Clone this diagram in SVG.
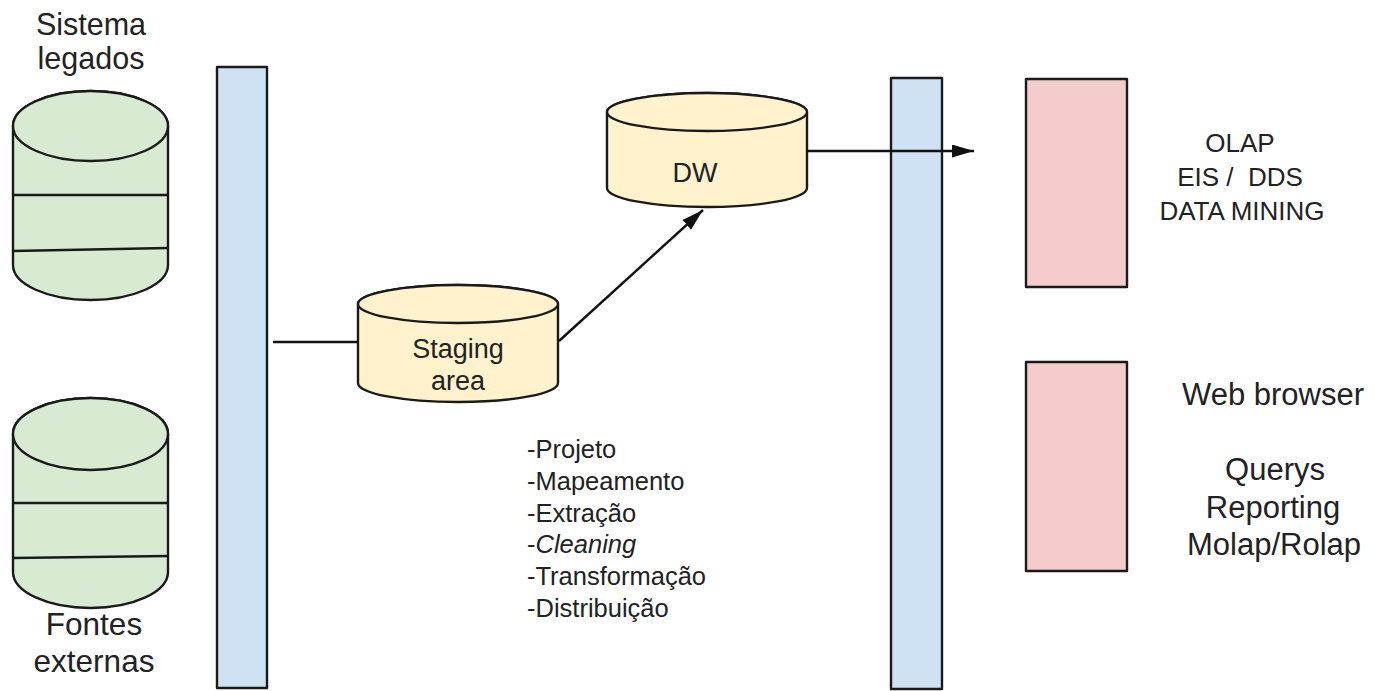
<svg xmlns="http://www.w3.org/2000/svg" width="1378" height="691" viewBox="0 0 1378 691">
<style>
.s{stroke:#1a1a1a;stroke-width:2.4;stroke-linejoin:round}
.g{fill:#d9ead3}.y{fill:#fff2cc}.b{fill:#cfe2f3}.p{fill:#f4cccc}
.t{font-family:"Liberation Sans",Arial,sans-serif;fill:#222;text-anchor:middle}
.l{font-family:"Liberation Sans",Arial,sans-serif;fill:#222;font-size:25.5px}
.c{stroke:#111;stroke-width:2.4;fill:none}
</style>
<defs>
<marker id="ah2" viewBox="0 0 10 10" refX="10" refY="5" markerWidth="22" markerHeight="13" markerUnits="userSpaceOnUse" orient="auto" preserveAspectRatio="none">
<path d="M0,0 L10,5 L0,10 Z" fill="#111"/>
</marker>
</defs>
<rect width="1378" height="691" fill="#fff"/>

<g id="bar1"><rect class="s b" x="217" y="67" width="50" height="621"/></g>
<g id="bar2"><rect class="s b" x="891" y="78" width="51" height="611"/></g>

<g id="legados">
<path class="s g" d="M13,126 V265 A77.5,35 0 0 0 168,265 V126 A77.5,35 0 0 0 13,126 Z"/>
<ellipse class="s g" cx="90.5" cy="126" rx="77.5" ry="35"/>
<line class="s" x1="13" y1="195" x2="168" y2="195"/>
<line class="s" x1="13" y1="251" x2="168" y2="248"/>
<text class="t" x="91" y="35" font-size="30.5">Sistema</text>
<text class="t" x="91" y="69" font-size="30.5">legados</text>
</g>

<g id="externas">
<path class="s g" d="M13,434 V572 A77.5,36 0 0 0 168,572 V434 A77.5,36 0 0 0 13,434 Z"/>
<ellipse class="s g" cx="90.5" cy="434" rx="77.5" ry="36"/>
<line class="s" x1="13" y1="503" x2="168" y2="503"/>
<line class="s" x1="13" y1="558" x2="168" y2="556"/>
<text class="t" x="94" y="635" font-size="31.5">Fontes</text>
<text class="t" x="94" y="672" font-size="31.5">externas</text>
</g>

<g id="staging">
<path class="s y" d="M358,304 V383 A100,19 0 0 0 558,383 V304 A100,19 0 0 0 358,304 Z"/>
<ellipse class="s y" cx="458" cy="304" rx="100" ry="19"/>
<text class="t" x="458" y="358" font-size="27">Staging</text>
<text class="t" x="458" y="390" font-size="27">area</text>
</g>

<g id="dw">
<path class="s y" d="M607,112 V188 A100,19 0 0 0 807,188 V112 A100,19 0 0 0 607,112 Z"/>
<ellipse class="s y" cx="707" cy="112" rx="100" ry="19"/>
<text class="t" x="695" y="182" font-size="27">DW</text>
</g>

<g id="olap">
<rect class="s p" x="1026" y="79" width="101" height="208"/>
<text class="t" x="1240" y="152" font-size="26">OLAP</text>
<text class="t" x="1240" y="186" font-size="26" xml:space="preserve">EIS /  DDS</text>
<text class="t" x="1242" y="220" font-size="26">DATA MINING</text>
</g>

<g id="web">
<rect class="s p" x="1026" y="362" width="101" height="209"/>
<text class="t" x="1273" y="405" font-size="31">Web browser</text>
<text class="t" x="1275" y="480" font-size="31">Querys</text>
<text class="t" x="1273" y="518" font-size="31">Reporting</text>
<text class="t" x="1274" y="555" font-size="31">Molap/Rolap</text>
</g>

<g id="steps">
<text class="l" x="527" y="458">-Projeto</text>
<text class="l" x="527" y="490">-Mapeamento</text>
<text class="l" x="527" y="522">-Extração</text>
<text class="l" x="527" y="553">-<tspan font-style="italic">Cleaning</tspan></text>
<text class="l" x="527" y="585">-Transformação</text>
<text class="l" x="527" y="617">-Distribuição</text>
</g>

<g id="connectors">
<line class="c" x1="273" y1="342" x2="358" y2="342"/>
<line class="c" x1="559" y1="341" x2="703" y2="210" marker-end="url(#ah2)"/>
<line class="c" x1="807" y1="151" x2="974" y2="151" marker-end="url(#ah2)"/>
</g>
</svg>
